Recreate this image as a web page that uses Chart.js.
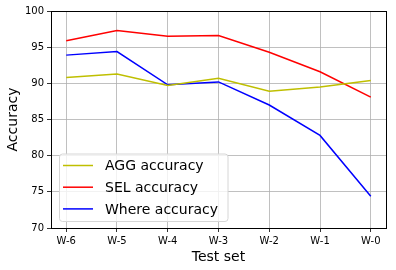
<!DOCTYPE html>
<html>
<head>
<meta charset="utf-8">
<script src="https://cdn.jsdelivr.net/npm/chart.js@4/dist/chart.umd.min.js"></script>
<style>
  html, body { margin: 0; padding: 0; background: #fff; }
  #wrap { width: 396px; height: 270px; }
</style>
</head>
<body>
<div id="wrap"><canvas id="grafico"></canvas></div>
<script>
var testSets = ['W-6', 'W-5', 'W-4', 'W-3', 'W-2', 'W-1', 'W-0'];
var aggAcc = [90.8, 91.3, 89.7, 90.7, 88.9, 89.5, 90.4];
var selAcc = [95.9, 97.3, 96.5, 96.6, 94.3, 91.6, 88.1];
var whereAcc = [93.9, 94.4, 89.8, 90.2, 87.0, 82.8, 74.4];
var yTicks = [70, 75, 80, 85, 90, 95, 100];

function puntos(serie) {
    return serie.map((v, i) => ({ x: i, y: v }));
}

// marco negro alrededor del area del grafico
var marco = {
    id: 'marco',
    afterDraw(chart) {
        var a = chart.chartArea, ctx = chart.ctx;
        ctx.save();
        ctx.strokeStyle = '#000';
        ctx.lineWidth = 1;
        ctx.strokeRect(Math.round(a.left) + 0.5, Math.round(a.top) + 0.5,
            Math.round(a.right - a.left), Math.round(a.bottom - a.top));
        ctx.restore();
    }
};

// leyenda dentro del grafico, abajo a la izquierda
var leyenda = {
    id: 'leyenda',
    afterDraw(chart) {
        var a = chart.chartArea, ctx = chart.ctx;
        var ds = chart.data.datasets;
        var x0 = a.left + 8, w = 168.5, h = 67.5;
        var y0 = a.bottom - 7 - h;
        ctx.save();
        ctx.beginPath();
        ctx.roundRect(x0 + 0.5, y0 + 0.5, w, h, 3);
        ctx.fillStyle = 'rgba(255,255,255,0.8)';
        ctx.fill();
        ctx.strokeStyle = '#d6d6d6';
        ctx.lineWidth = 1;
        ctx.stroke();
        ctx.font = '14px "DejaVu Sans"';
        ctx.textBaseline = 'middle';
        ds.forEach((d, i) => {
            var yy = y0 + 12 + i * 21.7;
            ctx.strokeStyle = d.borderColor;
            ctx.lineWidth = 1.5;
            ctx.beginPath();
            ctx.moveTo(x0 + 4, yy);
            ctx.lineTo(x0 + 34, yy);
            ctx.stroke();
            ctx.fillStyle = '#000';
            ctx.fillText(d.label, x0 + 46, yy + 1);
        });
        ctx.restore();
    }
};

var elementoGrafico = document.getElementById('grafico').getContext('2d');
var grafico = new Chart(elementoGrafico, {
    type: 'line',
    data: {
        datasets: [
            { label: 'AGG accuracy', data: puntos(aggAcc), borderColor: '#bfbf00' },
            { label: 'SEL accuracy', data: puntos(selAcc), borderColor: '#ff0000' },
            { label: 'Where accuracy', data: puntos(whereAcc), borderColor: '#0000ff' }
        ]
    },
    options: {
        responsive: true,
        maintainAspectRatio: false,
        animation: false,
        elements: {
            line: { borderWidth: 1.5, tension: 0, fill: false },
            point: { radius: 0 }
        },
        layout: { padding: { top: 11, right: 10, left: 0, bottom: 0 } },
        plugins: { legend: { display: false }, tooltip: { enabled: false } },
        scales: {
            x: {
                type: 'linear',
                min: -0.3,
                max: 6.3,
                afterBuildTicks: (s) => { s.ticks = testSets.map((_, i) => ({ value: i })); },
                afterFit: (s) => { s.height = 42; },
                ticks: {
                    callback: (v) => testSets[v],
                    color: '#000',
                    padding: 3,
                    maxRotation: 0,
                    font: { family: 'DejaVu Sans', size: 10 }
                },
                grid: { color: '#b0b0b0', lineWidth: 0.8, tickColor: '#000', tickLength: 4 },
                border: { color: '#000', width: 1 },
                title: {
                    display: true,
                    text: 'Test set',
                    color: '#000',
                    padding: { top: 0, bottom: 4 },
                    font: { family: 'DejaVu Sans', size: 14 }
                }
            },
            y: {
                min: 70,
                max: 100,
                afterBuildTicks: (s) => { s.ticks = yTicks.map((v) => ({ value: v })); },
                afterFit: (s) => { s.width = 51; },
                ticks: {
                    color: '#000',
                    padding: 3,
                    font: { family: 'DejaVu Sans', size: 10 }
                },
                grid: { color: '#b0b0b0', lineWidth: 0.8, tickColor: '#000', tickLength: 4 },
                border: { color: '#000', width: 1 },
                title: {
                    display: true,
                    text: 'Accuracy',
                    color: '#000',
                    padding: { top: 5, bottom: 0 },
                    font: { family: 'DejaVu Sans', size: 14 }
                }
            }
        }
    },
    plugins: [marco, leyenda]
});
</script>
</body>
</html>
